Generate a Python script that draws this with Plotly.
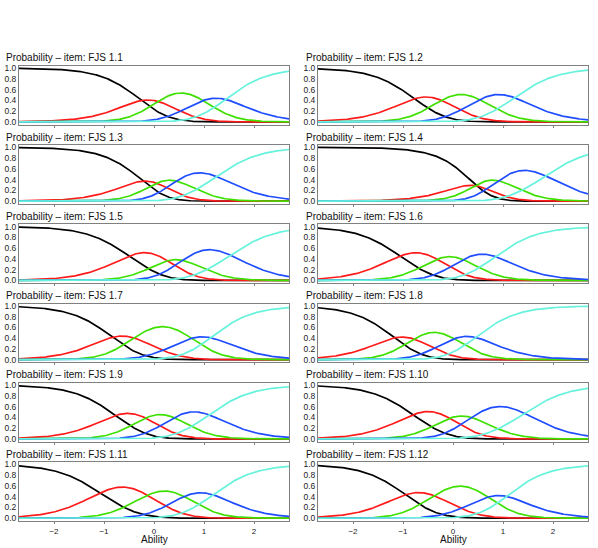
import numpy as np
import plotly.graph_objects as go

# Items and category-boundary locations (where adjacent curves cross)
items = ["FJS 1.1", "FJS 1.2", "FJS 1.3", "FJS 1.4", "FJS 1.5", "FJS 1.6",
         "FJS 1.7", "FJS 1.8", "FJS 1.9", "FJS 1.10", "FJS 1.11", "FJS 1.12"]
delta1 = [-0.25, -0.77, -0.22, 0.48, -0.50, -1.06, -0.83, -1.17, -0.77, -0.80, -1.08, -0.95]
delta2 = [0.08, -0.23, 0.05, 0.44, 0.27, -0.32, -0.40, -0.78, -0.17, -0.07, -0.13, -0.38]
delta3 = [0.98, 0.53, 0.45, 0.90, 0.57, 0.20, 0.75, 0.02, 0.40, 0.37, 0.60, 0.70]
delta4 = [1.43, 1.23, 1.25, 1.85, 1.53, 0.85, 1.13, 0.45, 1.10, 1.43, 1.18, 1.07]
slope = [2.2] * 12

category_colors = ["#000000", "#ff1a1a", "#3ee000", "#1f4dff", "#66f2dc"]
x_ticks = [-2, -1, 0, 1, 2]
y_ticks = [0.0, 0.2, 0.4, 0.6, 0.8, 1.0]

W, H = 598, 548
ability = np.linspace(-2.7, 2.7, 361)

fig = go.Figure()
col_px = [(19, 289), (318, 588)]
annotations = []
for i, name in enumerate(items):
    row, col = divmod(i, 2)
    ax_id = i + 1
    xa = "x" if ax_id == 1 else f"x{ax_id}"
    ya = "y" if ax_id == 1 else f"y{ax_id}"
    deltas = np.array([delta1[i], delta2[i], delta3[i], delta4[i]])
    a = slope[i]
    cum = np.zeros((5, ability.size))
    for k in range(1, 5):
        cum[k] = cum[k - 1] + a * (ability - deltas[k - 1])
    ex = np.exp(cum - cum.max(axis=0))
    probs = ex / ex.sum(axis=0)
    for k in range(5):
        fig.add_trace(go.Scatter(x=ability, y=probs[k], mode="lines",
                                 line=dict(color=category_colors[k], width=1.7),
                                 xaxis=xa, yaxis=ya, showlegend=False,
                                 hoverinfo="skip"))
    top = 63.3 + 80 * row
    bot = 122.7 + 80 * row
    x0, x1 = col_px[col]
    last_row = row == 5
    fig.update_layout(**{
        ("xaxis" if ax_id == 1 else f"xaxis{ax_id}"): dict(
            domain=[x0 / W, x1 / W], range=[-2.7, 2.7], anchor=ya,
            tickvals=x_ticks, showticklabels=last_row, ticks="outside",
            ticklen=2, tickcolor="#808080", showgrid=False, zeroline=False,
            showline=True, mirror=True, linecolor="#808080", linewidth=1,
            tickfont=dict(size=8, color="#222222", family="Liberation Sans, Arial")),
        ("yaxis" if ax_id == 1 else f"yaxis{ax_id}"): dict(
            domain=[1 - bot / H, 1 - top / H], range=[-0.05, 1.044], anchor=xa,
            tickvals=y_ticks, ticktext=[f"{v:.1f}" for v in y_ticks],
            ticks="", ticklen=0, showgrid=False, zeroline=False,
            showline=True, mirror=True, linecolor="#808080", linewidth=1,
            tickfont=dict(size=8.5, color="#222222", family="Liberation Sans, Arial")),
    })
    annotations.append(dict(text=f"Probability \u2013 item: {name}", xref="paper", yref="paper",
                            x=(4 if col == 0 else 304) / W, y=1 - (top - 8) / H,
                            xanchor="left", yanchor="middle", showarrow=False,
                            font=dict(size=10, color="#111111", family="Liberation Sans, Arial")))
    if last_row:
        annotations.append(dict(text="Ability", xref="paper", yref="paper",
                                x=((x0 + x1) / 2) / W, y=0,
                                xanchor="center", yanchor="bottom", showarrow=False,
                                borderpad=0,
                                font=dict(size=10, color="#111111", family="Liberation Sans, Arial")))

fig.update_layout(width=W, height=H, margin=dict(l=0, r=0, t=0, b=0),
                  paper_bgcolor="white", plot_bgcolor="white",
                  annotations=annotations)
fig.write_html("out.html", config={"displayModeBar": False},
               post_script="document.body.style.margin='0';document.body.style.overflow='hidden';")
